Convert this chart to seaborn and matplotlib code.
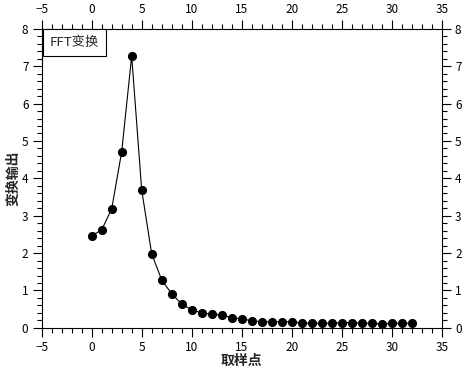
import matplotlib
matplotlib.use("Agg")
import matplotlib.pyplot as plt
import pandas as pd
import seaborn as sns
from matplotlib.ticker import AutoMinorLocator, MultipleLocator

# sample index and FFT output
sample_idx = list(range(33))
fft_output = [
    2.46, 2.62, 3.18, 4.71, 7.27, 3.69, 1.98, 1.28, 0.91, 0.64,
    0.48, 0.40, 0.36, 0.34, 0.27, 0.24, 0.19, 0.16, 0.16, 0.16,
    0.16, 0.13, 0.12, 0.12, 0.12, 0.14, 0.14, 0.12, 0.12, 0.10,
    0.12, 0.12, 0.12,
]
legend_label = "FFT变换"
x_label = "取样点"
y_label = "变换输出"

df = pd.DataFrame({"x": sample_idx, "y": fft_output})

sns.set_style("ticks")
plt.rcParams["font.family"] = ["Noto Sans CJK SC", "DejaVu Sans"]

fig = plt.figure(figsize=(4.68, 3.70), dpi=100)
ax = fig.add_axes([0.089, 0.114, 0.855, 0.808])

sns.lineplot(
    data=df, x="x", y="y", ax=ax, color="black", linewidth=0.8,
    marker="o", markersize=5.8, markeredgecolor="black", markerfacecolor="black",
)

ax.set_xlim(-5, 35)
ax.set_ylim(0, 8)
ax.xaxis.set_major_locator(MultipleLocator(5))
ax.yaxis.set_major_locator(MultipleLocator(1))
ax.xaxis.set_minor_locator(AutoMinorLocator(5))
ax.yaxis.set_minor_locator(AutoMinorLocator(5))

ax.tick_params(which="both", direction="out", top=True, right=True,
               labeltop=True, labelright=True, colors="black", labelsize=8.5)
ax.tick_params(which="major", length=6.5, width=0.8, pad=3)
ax.tick_params(which="minor", length=3.6, width=0.8)
for side in ax.spines.values():
    side.set_visible(True)
    side.set_color("black")
    side.set_linewidth(0.8)

ax.set_xlabel(x_label, fontsize=10, fontweight="bold", labelpad=0)
ax.set_ylabel(y_label, fontsize=10, fontweight="bold", labelpad=1)

# label box pinned to the upper-left corner, touching the top spine
ax.text(0.021, 0.976, legend_label, transform=ax.transAxes, fontsize=9.5,
        va="top", ha="left",
        bbox=dict(boxstyle="square,pad=0.5", facecolor="white",
                  edgecolor="black", linewidth=0.8))

fig.savefig("out.png", dpi=100)
